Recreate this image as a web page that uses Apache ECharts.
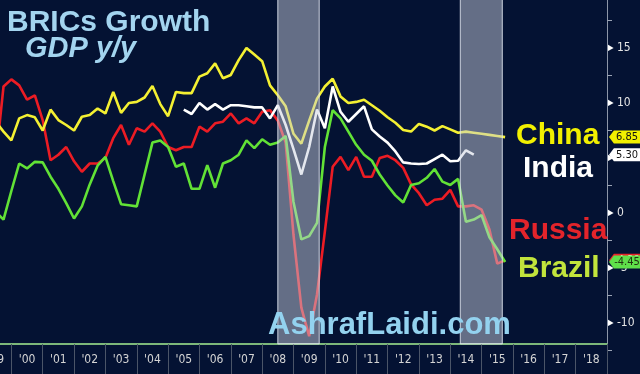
<!DOCTYPE html>
<html><head><meta charset="utf-8">
<script src="https://cdn.jsdelivr.net/npm/echarts@6/dist/echarts.min.js"></script>
<style>html,body{margin:0;padding:0;background:#041233}#c{width:640px;height:374px}</style>
</head><body><div id="c"></div>
<script>
// ---- data ----
const yearLabels = ["'99","'00","'01","'02","'03","'04","'05","'06","'07","'08","'09","'10","'11","'12","'13","'14","'15","'16","'17","'18"];
const quarterStep = 0.25;
const mainStart = 1999.5;   // first quarterly observation (China, Russia, Brazil)
const indiaStart = 2005.5;  // first quarterly observation (India)
const china = [8.3,7.4,6.6,8.6,8.9,8.7,7.5,9.4,8.45,8.0,7.5,8.75,8.9,9.5,9.05,11.0,9.1,10.0,10.1,10.5,11.55,9.9,8.8,11.0,10.9,10.9,12.4,12.7,13.6,12.25,12.55,13.9,15.0,14.4,13.8,11.6,10.7,9.7,7.2,6.3,8.4,10.4,11.5,12.2,10.6,10.0,10.1,10.3,9.8,9.3,8.7,8.2,7.55,7.4,8.1,7.85,7.5,7.9,7.6,7.3,7.4,7.3,7.2,7.1,7.0,6.9];
const russia = [4.7,11.5,12.15,11.6,10.3,10.7,8.45,4.8,5.3,6.0,4.7,3.75,4.5,4.5,5.0,6.8,8.0,6.2,7.7,7.4,8.15,7.4,6.0,5.7,6.0,6.0,7.85,7.4,8.15,8.3,9.05,8.15,8.6,8.15,9.2,9.35,8.4,6.4,-2.0,-8.6,-11.2,-7.4,-1.7,4.2,5.1,3.9,5.1,3.3,3.3,5.0,5.2,4.8,4.1,2.6,1.8,0.7,1.2,1.3,2.1,0.6,0.6,0.7,0.3,-1.5,-4.6,-4.3];
const brazil = [0.1,-0.6,2.0,4.5,4.05,4.65,4.6,3.3,2.2,0.9,-0.5,0.6,2.6,4.3,5.1,2.9,0.8,0.7,0.6,3.5,6.4,6.6,6.0,4.2,4.5,2.2,2.2,4.35,2.3,4.5,4.8,5.3,6.6,5.9,6.7,6.2,6.4,7.0,1.0,-2.4,-2.1,-0.9,6.0,9.35,8.6,7.4,6.2,5.3,4.75,3.5,2.5,1.6,0.95,2.55,2.7,3.2,4.0,2.85,2.55,3.1,-0.8,-0.6,-0.2,-2.2,-3.3,-4.45];
const india = [9.4,9.0,10.0,9.4,9.9,9.4,9.8,9.8,9.7,9.6,9.6,8.6,9.8,8.0,5.8,3.5,6.0,9.4,7.7,11.5,9.2,8.3,9.0,9.7,7.6,6.95,6.4,5.6,4.6,4.5,4.45,4.5,4.9,5.3,4.7,4.75,5.7,5.3];
const badgeChina = '6.85', badgeIndia = '5.30', badgeBrazil = '-4.45', badgeRussia = '-4.30';
const recessions = [[2008.5, 2009.82], [2014.32, 2015.66]];

// ---- chart ----
const X_MIN = 1999, X_MAX = 2019, Y_MIN = -15, Y_MAX = 20, SHADE_BOTTOM = -11.9;
function pairs(start, vals) { return vals.map((v, i) => [start + i * quarterStep, v]); }

function lineSeries(name, start, vals, color, badge, badgeBg, badgeFg, z) {
  return {
    name, type: 'line', xAxisIndex: 0, yAxisIndex: 0, data: pairs(start, vals),
    showSymbol: false, symbol: 'none', clip: true, z,
    lineStyle: { color, width: 2.6 }, itemStyle: { color },
    markPoint: {
      silent: true, z: 20 + z,
      symbol: 'path://M0,6L6,0L44,0L44,12L6,12Z', symbolSize: [36, 13], symbolOffset: [20, 0],
      itemStyle: { color: badgeBg },
      label: { show: true, position: 'inside', color: badgeFg, fontSize: 11,
               fontFamily: 'DejaVu Sans Condensed, DejaVu Sans, sans-serif', formatter: () => badge },
      data: [{ coord: [X_MAX, vals[vals.length - 1]] }]
    }
  };
}

const chart = echarts.init(document.getElementById('c'), null, { renderer: 'canvas', width: 640, height: 374 });
const bold = (size, italic) => (italic ? 'italic ' : '') + 'bold ' + size + 'px "Liberation Sans", Arial, sans-serif';

chart.setOption({
  backgroundColor: '#041233',
  animation: false,
  grid: [
    { left: -20, right: 33, top: -7, height: 385, outerBoundsMode: 'none', containLabel: false },
    { left: -20, right: 33, top: 0, height: 344, outerBoundsMode: 'none', containLabel: false }
  ],
  xAxis: [
    { gridIndex: 0, type: 'value', min: X_MIN, max: X_MAX, show: false },
    { gridIndex: 1, type: 'category', data: yearLabels, boundaryGap: true, position: 'bottom',
      axisLine: { show: true, lineStyle: { color: '#7db87a', width: 2 } },
      axisTick: { show: true, interval: 0, length: 31, lineStyle: { color: '#4b5568', width: 1 } },
      axisLabel: { interval: 0, color: '#d4d4d4', fontSize: 12, margin: 10,
                   fontFamily: '"Liberation Sans Narrow", "DejaVu Sans Condensed", sans-serif' } }
  ],
  yAxis: [
    { gridIndex: 0, type: 'value', position: 'right', min: Y_MIN, max: Y_MAX, interval: 5,
      axisLine: { show: true, lineStyle: { color: '#8d96a8', width: 1 } },
      axisTick: { show: false },
      minorTick: { show: true, splitNumber: 2, length: 5, lineStyle: { color: '#9aa3b5' } },
      splitLine: { show: false },
      axisLabel: { margin: 1, color: '#e4e4e4', fontSize: 12,
                   fontFamily: '"DejaVu Sans Condensed", "DejaVu Sans", sans-serif',
                   formatter: v => (v === Y_MIN || v === Y_MAX) ? '' : '{t|▶} ' + v,
                   rich: { t: { color: '#ffffff', fontSize: 8 } } } },
    { gridIndex: 1, type: 'value', show: false }
  ],
  series: [
    lineSeries('Brazil', mainStart, brazil, '#62e236', badgeBrazil, '#5fe04a', '#223311', 3),
    lineSeries('Russia', mainStart, russia, '#ec1c24', badgeRussia, '#e8242a', '#ffffff', 2),
    lineSeries('India', indiaStart, india, '#ffffff', badgeIndia, '#ffffff', '#111111', 4),
    lineSeries('China', mainStart, china, '#f4f032', badgeChina, '#f2f000', '#111111', 5),
    { type: 'line', xAxisIndex: 0, yAxisIndex: 0, data: [], z: 10, silent: true,
      markArea: { silent: true, z: 10,
        itemStyle: { color: 'rgba(200,206,221,0.49)', borderColor: 'rgba(230,235,245,0.85)', borderWidth: 1 },
        data: recessions.map(r => [{ xAxis: r[0], yAxis: SHADE_BOTTOM }, { xAxis: r[1], yAxis: Y_MAX }]) } }
  ],
  graphic: [
    { type: 'text', left: 7, top: 8, z: 100, style: { text: 'BRICs Growth', font: bold(30), fill: '#a3d4ef' } },
    { type: 'text', left: 25, top: 34, z: 100, style: { text: 'GDP y/y', font: bold(29, true), fill: '#a3d4ef' } },
    { type: 'text', left: 516, top: 121, z: 100, style: { text: 'China', font: bold(30), fill: '#f2f000' } },
    { type: 'text', left: 523, top: 154, z: 100, style: { text: 'India', font: bold(30), fill: '#ffffff' } },
    { type: 'text', left: 509, top: 216, z: 100, style: { text: 'Russia', font: bold(30), fill: '#e3242b' } },
    { type: 'text', left: 518, top: 254, z: 100, style: { text: 'Brazil', font: bold(30), fill: '#c2e43c' } },
    { type: 'text', left: 268, top: 310, z: 100, style: { text: 'AshrafLaidi.com', font: bold(31), fill: '#93d2ef' } }
  ]
});
</script></body></html>
